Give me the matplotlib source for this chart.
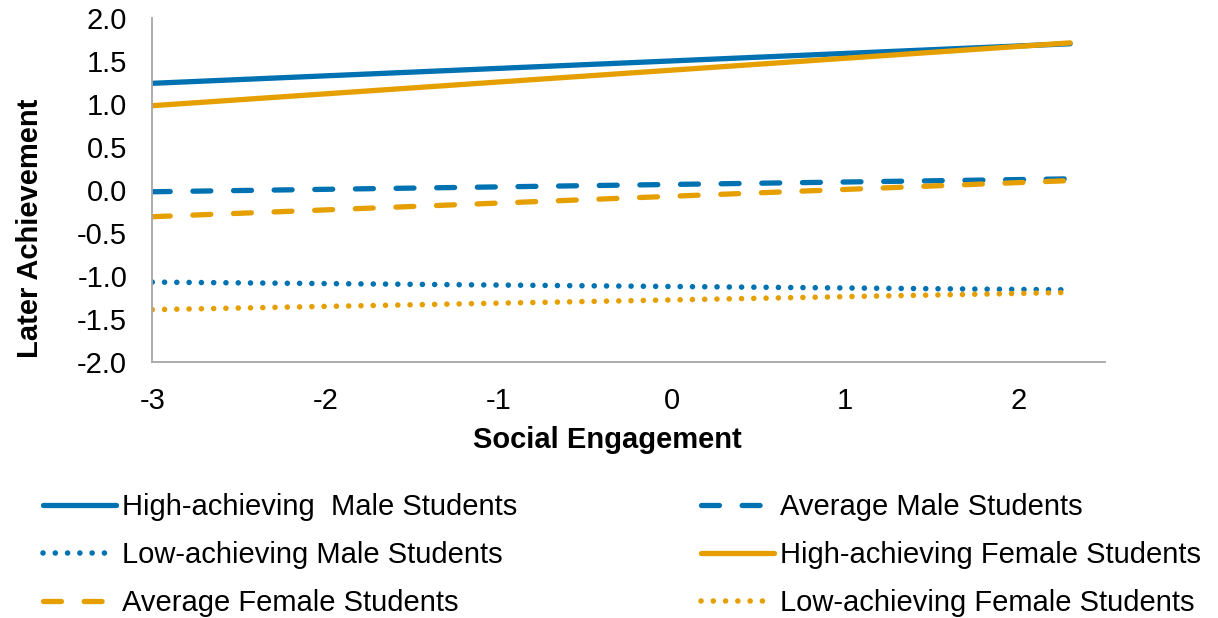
import matplotlib
matplotlib.use("Agg")
from matplotlib import pyplot as plt

plt.rcParams['font.family'] = ['Liberation Sans', 'DejaVu Sans']
plt.rcParams['axes.unicode_minus'] = False

# social engagement range
x = [-3, 2.3]

high_male = [1.24, 1.70]
avg_male = [-0.02, 0.13]
low_male = [-1.07, -1.16]
high_female = [0.98, 1.71]
avg_female = [-0.31, 0.11]
low_female = [-1.39, -1.19]

blue = '#0072B2'
orange = '#E69F00'

fig = plt.figure(figsize=(12.18, 6.18), dpi=100)
ax = fig.add_axes([0.125, 0.414, 0.782, 0.557])

dash = (3.4, 4.3)
dot = (0.01, 2.2)

h1, = ax.plot(x, high_male, color=blue, lw=3.8, solid_capstyle='round',
              label='High-achieving  Male Students')
h2, = ax.plot(x, avg_male, color=blue, lw=3.8, dashes=dash,
              dash_capstyle='round', label='Average Male Students')
h3, = ax.plot(x, low_male, color=blue, lw=4, dashes=dot,
              dash_capstyle='round', label='Low-achieving Male Students')
h4, = ax.plot(x, high_female, color=orange, lw=3.8, solid_capstyle='round',
              label='High-achieving Female Students')
h5, = ax.plot(x, avg_female, color=orange, lw=3.8, dashes=dash,
              dash_capstyle='round', label='Average Female Students')
h6, = ax.plot(x, low_female, color=orange, lw=4, dashes=dot,
              dash_capstyle='round', label='Low-achieving Female Students')

ax.set_xlim(-3, 2.5)
ax.set_ylim(-2, 2)
ax.set_xticks([-3, -2, -1, 0, 1, 2])
ax.set_yticks([-2, -1.5, -1, -0.5, 0, 0.5, 1, 1.5, 2])
ax.set_yticklabels(['%.1f' % v for v in ax.get_yticks()])
ax.tick_params(length=0, labelsize=21)
ax.tick_params(axis='x', pad=18)
ax.tick_params(axis='y', pad=18)
for s in ['top', 'right']:
    ax.spines[s].set_visible(False)
for s in ['left', 'bottom']:
    ax.spines[s].set_color('#a6a6a6')
    ax.spines[s].set_linewidth(1.3)

ax.set_xlabel('Social Engagement', fontsize=21, fontweight='bold', va='center')
ax.set_ylabel('Later Achievement', fontsize=21, fontweight='bold', va='center')
ax.xaxis.set_label_coords(0.478, -0.227)
ax.yaxis.set_label_coords(-0.128, 0.39)

# column-wise fill to get the row order of the original legend
handles = [h1, h3, h5, h2, h4, h6]
fig.legend(handles, [h.get_label() for h in handles], ncol=2, frameon=False,
           fontsize=21, loc='upper left', bbox_to_anchor=(43 / 1218, 1 - 493 / 618),
           borderaxespad=0, borderpad=0,
           handlelength=2.5, handletextpad=0.2, columnspacing=6.3,
           labelspacing=0.69)

fig.savefig('out.png', dpi=100)
